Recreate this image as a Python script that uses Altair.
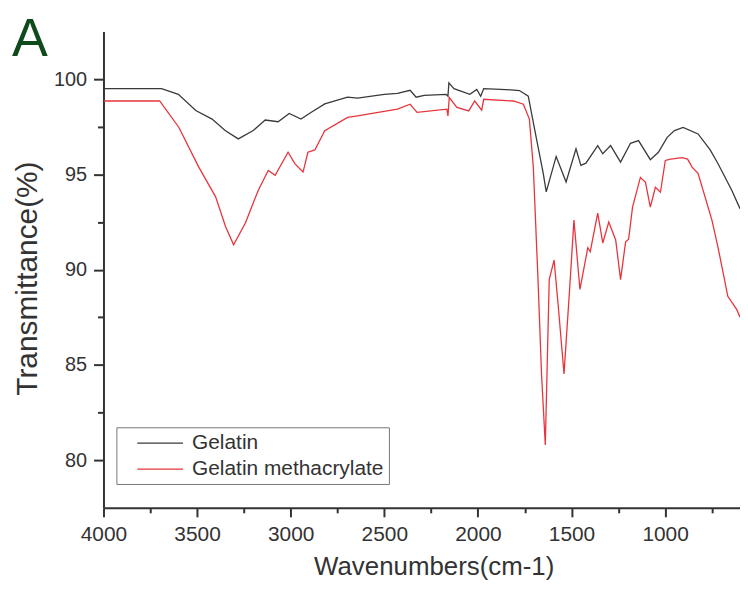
import altair as alt
import pandas as pd

# ---- data ----
series_names = ["Gelatin", "Gelatin methacrylate"]
series_colors = ["#3a3a3a", "#e8353d"]

wn_gelatin = [4000, 3800, 3690, 3600, 3507, 3420, 3350, 3280, 3200, 3136, 3067, 3008,
              2945, 2892, 2818, 2696, 2643, 2500, 2430, 2362, 2330, 2287, 2170, 2160,
              2155, 2128, 2043, 2006, 1985, 1969, 1850, 1778, 1731, 1699, 1651, 1635,
              1582, 1529, 1476, 1450, 1423, 1360, 1333, 1291, 1238, 1185, 1142, 1079,
              1036, 989, 950, 904, 824, 760, 718, 644, 600]
t_gelatin = [99.5, 99.5, 99.5, 99.2, 98.35, 97.9, 97.3, 96.86, 97.3, 97.85, 97.76, 98.2,
             97.9, 98.25, 98.7, 99.05, 99.0, 99.2, 99.25, 99.41, 99.05, 99.15, 99.2, 99.1,
             99.8, 99.5, 99.2, 99.46, 99.1, 99.5, 99.45, 99.4, 99.1, 97.46, 95.05, 94.08,
             95.94, 94.6, 96.34, 95.47, 95.59, 96.51, 96.08, 96.51, 95.64, 96.63, 96.77, 95.77,
             96.16, 96.94, 97.3, 97.46, 97.12, 96.3, 95.57, 94.17, 93.2]

wn_gelma = [4000, 3800, 3700, 3597, 3491, 3401, 3348, 3305, 3242, 3173, 3120, 3083,
            3014, 2977, 2934, 2908, 2871, 2818, 2696, 2643, 2430, 2362, 2325, 2166,
            2160, 2153, 2112, 2049, 2017, 1980, 1969, 1810, 1757, 1725, 1704, 1679,
            1660, 1640, 1619, 1593, 1570, 1540, 1510, 1487, 1455, 1413, 1400, 1360,
            1333, 1301, 1264, 1238, 1211, 1195, 1174, 1132, 1105, 1079, 1052, 1025,
            999, 970, 909, 880, 856, 824, 750, 718, 665, 617, 600]
t_gelma = [98.85, 98.85, 98.85, 97.46, 95.38, 93.82, 92.26, 91.3, 92.45, 94.17, 95.21, 94.95,
           96.16, 95.55, 95.12, 96.16, 96.28, 97.29, 97.99, 98.07, 98.42, 98.68, 98.25, 98.42,
           98.07, 99.03, 98.51, 98.33, 98.85, 98.37, 98.94, 98.85, 98.68, 97.9, 95.38, 89.5,
           84.5, 80.8, 89.48, 90.5, 88.0, 84.53, 89.0, 92.6, 88.96, 91.15, 90.94, 92.97,
           91.4, 92.5, 91.56, 89.48, 91.46, 91.6, 93.28, 94.84, 94.58, 93.28, 94.32, 94.06,
           95.73, 95.8, 95.88, 95.8, 95.38, 95.05, 92.6, 91.2, 88.6, 87.9, 87.5]

x_tick_values = [4000, 3750, 3500, 3250, 3000, 2750, 2500, 2250, 2000, 1750, 1500, 1250, 1000, 750]
y_tick_values = [80, 82.5, 85, 87.5, 90, 92.5, 95, 97.5, 100]
panel_label = ["A"]

df = pd.concat([
    pd.DataFrame({"wn": wn_gelatin, "t": t_gelatin, "series": series_names[0]}),
    pd.DataFrame({"wn": wn_gelma, "t": t_gelma, "series": series_names[1]}),
], ignore_index=True)

FONT = "Liberation Sans"
AXC = "#333333"

x_axis = alt.Axis(
    values=x_tick_values,
    labelExpr="datum.value % 500 === 0 ? '' + datum.value : ''",
    tickSize={"condition": {"test": "datum.value % 500 === 0", "value": 9}, "value": 5},
    labelPadding=7, labelFontSize=21, labelFont=FONT, labelColor=AXC,
    domainColor=AXC, domainWidth=2, tickColor=AXC, tickWidth=2, grid=False,
    title="Wavenumbers(cm-1)", titleFontSize=26, titleFont=FONT, titleFontWeight="normal",
    titleColor=AXC, titleX=332, titleY=67, titleBaseline="alphabetic", titleAlign="center",
    labelFlush=False, labelOverlap=False,
)
y_axis = alt.Axis(
    values=y_tick_values,
    labelExpr="datum.value % 5 === 0 ? '' + datum.value : ''",
    tickSize={"condition": {"test": "datum.value % 5 === 0", "value": 10}, "value": 6},
    labelPadding=7, labelFontSize=20, labelFont=FONT, labelColor=AXC,
    domainColor=AXC, domainWidth=2, tickColor=AXC, tickWidth=2, grid=False,
    title="Transmittance(%)", titleFontSize=30, titleFont=FONT, titleFontWeight="normal",
    titleColor=AXC, titleX=-76, titleY=248, titleBaseline="middle", titleAlign="center",
    titleAngle=270, labelFlush=False, labelOverlap=False,
)

lines = alt.Chart(df).mark_line(strokeWidth=1.3, clip=True).encode(
    x=alt.X("wn:Q", scale=alt.Scale(domain=[4000, 600], nice=False, zero=False), axis=x_axis),
    y=alt.Y("t:Q", scale=alt.Scale(domain=[77.5, 102.5], nice=False, zero=False), axis=y_axis),
    color=alt.Color(
        "series:N",
        scale=alt.Scale(domain=series_names, range=series_colors),
        legend=alt.Legend(
            title=None, orient="none", legendX=13, legendY=398, direction="vertical",
            symbolType="M-1,0H3.6", symbolSize=400, symbolStrokeWidth=1.3,
            symbolOffset=15,
            labelFontSize=21, labelFont=FONT, labelColor=AXC, labelOffset=34,
            labelLimit=0,
            strokeColor="#777777", fillColor="white", padding=5, rowPadding=5,
        ),
    ),
    detail="series:N",
)

label = alt.Chart(pd.DataFrame({"lab": panel_label})).mark_text(
    fontSize=54, font=FONT, color="#0f4a1c", align="center", baseline="alphabetic"
).encode(x=alt.value(-74), y=alt.value(25), text="lab:N")

chart = alt.layer(lines, label).properties(
    width=640, height=479,
    autosize=alt.AutoSizeParams(type="none"),
    padding={"left": 96, "top": 22, "right": 0, "bottom": 73},
).configure_view(stroke=None)

chart.save("out.html", embed_options={"renderer": "svg", "actions": False})
